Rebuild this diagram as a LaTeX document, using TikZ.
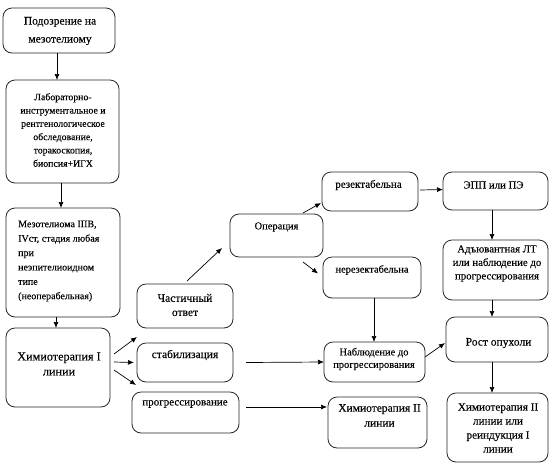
\documentclass[tikz,border=0pt]{standalone}
\usepackage{fontspec}
\setmainfont{Liberation Serif}[FakeBold=0.15]
\usetikzlibrary{arrows.meta}
\newcommand\bx[5]{%
 \pgfmathsetmacro\bw{#4-#2}\pgfmathsetmacro\bh{#5-#3}%
 \pgfmathsetmacro\bcx{(#2+#4)/2}\pgfmathsetmacro\bcy{(#3+#5)/2}%
 \node[box, minimum width=\bw pt, minimum height=\bh pt] (#1) at (\bcx,\bcy) {};}
\begin{document}
\begin{tikzpicture}[x=1pt,y=-1pt,
 box/.style={draw=black!85, line width=0.8pt, rounded corners=9pt, inner sep=0pt, outer sep=0pt},
 txt/.style={align=center, inner sep=0pt},
 arr/.style={-{Latex[length=6pt,width=5pt]}, line width=0.7pt}]
\useasboundingbox (0,0) rectangle (559,469);
\bx{b1}{3}{8}{115}{53}
\bx{b2}{6}{80}{119}{183}
\bx{b3}{6}{208}{120}{317}
\bx{b4}{6}{328}{110}{407}
\bx{b5}{137}{284}{233}{328}
\bx{b6}{137}{343}{233}{382}
\bx{b7}{132}{392}{239}{433}
\bx{b8}{230}{214}{323}{257}
\bx{b9}{322}{172}{418}{211}
\bx{b10}{323}{257}{421}{298}
\bx{b11}{324}{342}{425}{382}
\bx{b12}{328}{397}{427}{448}
\bx{b13}{443}{172}{548}{210}
\bx{b14}{443}{240}{548}{300}
\bx{b15}{446}{317}{548}{362}
\bx{b16}{447}{393}{548}{462}
% texts
\node[txt,font=\fontsize{11.5}{18}\selectfont] (t1) at (60,31) {Подозрение на\\мезотелиому};
\node[txt,font=\fontsize{9.8}{13.3}\selectfont] (t2) at (63,130) {Лабораторно-\\инструментальное и\\рентгенологическое\\обследование,\\торакоскопия,\\биопсия+ИГХ};
\node[txt,align=left,anchor=west,font=\fontsize{10}{14.4}\selectfont] (t3) at (18,261) {Мезотелиома IIIВ,\\IVст, стадия любая\\при\\неэпителиоидном\\типе\\(неоперабельная)};
\node[txt,font=\fontsize{12.2}{15}\selectfont] (t4) at (59,364) {Химиотерапия I\\линии};
\node[txt,font=\fontsize{11.5}{14.2}\selectfont] (t5) at (185,305) {Частичный\\ответ};
\node[txt,font=\fontsize{11.5}{14.2}\selectfont] (t6) at (185,355) {стабилизация};
\node[txt,font=\fontsize{11}{14}\selectfont] (t7) at (185,404) {прогрессирование};
\node[txt,font=\fontsize{10.5}{13}\selectfont] (t8) at (276.5,227) {Операция};
\node[txt,font=\fontsize{11}{13}\selectfont] (t9) at (368.5,185) {резектабельна};
\node[txt,font=\fontsize{10.4}{12}\selectfont] (t10) at (372,270) {нерезектабельна};
\node[txt,font=\fontsize{10.5}{12.5}\selectfont] (t11) at (374,359) {Наблюдение до\\прогрессирования};
\node[txt,font=\fontsize{11.5}{15}\selectfont] (t12) at (379.5,415.5) {Химиотерапия II\\линии};
\node[txt,font=\fontsize{10.8}{12}\selectfont] (t13) at (493.5,185) {ЭПП или ПЭ};
\node[txt,font=\fontsize{10.8}{13.5}\selectfont] (t14) at (497,263.5) {Адъювантная ЛТ\\или наблюдение до\\прогрессирования};
\node[txt,font=\fontsize{11.5}{14}\selectfont] (t15) at (498.5,343) {Рост опухоли};
\node[txt,font=\fontsize{11.2}{14}\selectfont] (t16) at (498,428) {Химиотерапия II\\линии или\\реиндукция I\\линии};
% arrows
\draw[arr] ([xshift=-2pt]b1.south) -- ([xshift=-2pt]b1.south |- b2.north);
\draw[arr] ([xshift=-1.5pt]b2.south) -- ([xshift=-1.5pt]b2.south |- b3.north);
\draw[arr] ([xshift=-7pt]b3.south) -- ([xshift=-7pt]b3.south |- b4.north);
\draw[arr] ([shift={(4,-13.5)}]b4.east) -- ([shift={(0,9)}]b5.south west);
\draw[arr] ([shift={(4,-5.5)}]b4.east) -- ([shift={(-3,0)}]b6.west);
\draw[arr] ([shift={(4,2.5)}]b4.east) -- ([shift={(4,-7)}]b7.north west);
\draw[arr] ([shift={(2,-3)}]b5.north) -- ([shift={(-8,-9)}]b8.south west);
\draw[arr] ([shift={(-20,-1)}]b8.north east) -- ([shift={(-1,-8)}]b9.south west);
\draw[arr] ([shift={(-20,5)}]b8.south east) -- ([shift={(-5,-4)}]b10.west);
\draw[arr] ([shift={(2,-1.5)}]b9.east) -- ([shift={(0,-1.5)}]b13.west);
\draw[arr] ([xshift=2pt]b10.south) -- ([xshift=2pt]b10.south |- b11.north);
\draw[arr] ([xshift=13pt]b6.east) -- (b11.west);
\draw[arr] ([shift={(7,-5.5)}]b7.east) -- ([shift={(-1,-15.5)}]b12.west);
\draw[arr] ([xshift=-3.5pt]b13.south) -- ([xshift=-3.5pt]b13.south |- b14.north);
\draw[arr] ([xshift=-3.5pt]b14.south) -- ([xshift=-3.5pt]b14.south |- b15.north);
\draw[arr] ([xshift=-5pt]b15.south) -- ([xshift=-5pt]b15.south |- b16.north);
\draw[arr] ([shift={(0,-5)}]b11.east) -- ([shift={(-1,3.5)}]b15.west);
\end{tikzpicture}
\end{document}
